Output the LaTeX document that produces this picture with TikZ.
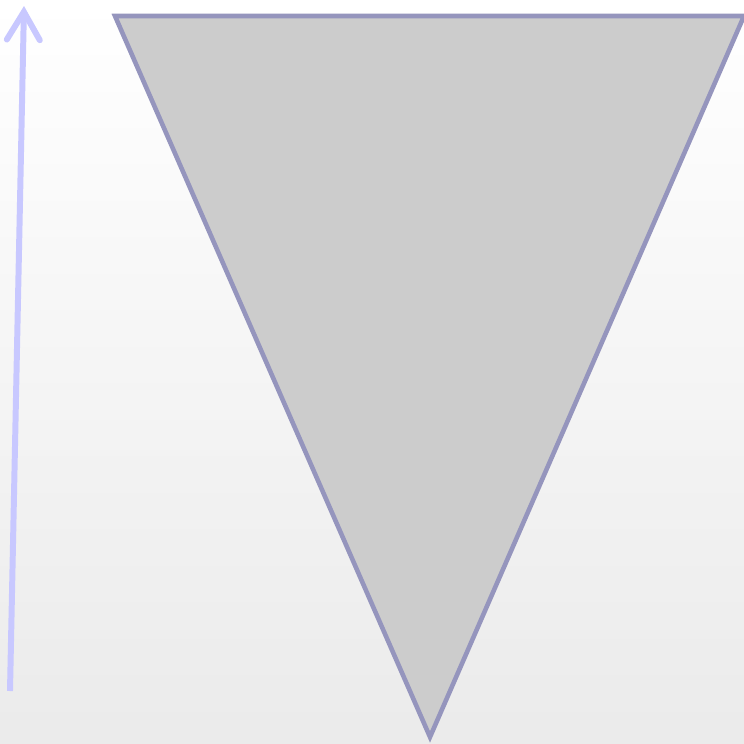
\documentclass[tikz,border=0pt]{standalone}
\usepackage{tikz}
\usetikzlibrary{arrows.meta}
\definecolor{rimcol}{RGB}{149,149,189}
\definecolor{risecol}{RGB}{200,200,255}
\tikzset{
backdrop/.style={top color=white,bottom color=gray!16,draw=none},
funnel/.style={fill=black!20,draw=rimcol,line width=2.6pt,line join=miter},
riser/.style={-{Straight Barb[length=5.6mm,width=6.6mm,line cap=round]},line width=3.4pt,risecol,line cap=butt}
}
\begin{document}
\begin{tikzpicture}[x=0.02cm,y=-0.02cm]
\shade[backdrop] (0,0) rectangle (744,744);
\useasboundingbox (0,0) rectangle (744,744);
\coordinate (tl) at (115,16);
\coordinate (tr) at (744,16);
\coordinate (apex) at (430,737);
\draw[funnel] (tl) -- (tr) -- (apex) -- cycle;
\coordinate (foot) at (10,691);
\coordinate (head) at (24,6);
\draw[riser] (foot) -- (head);
\end{tikzpicture}
\end{document}
